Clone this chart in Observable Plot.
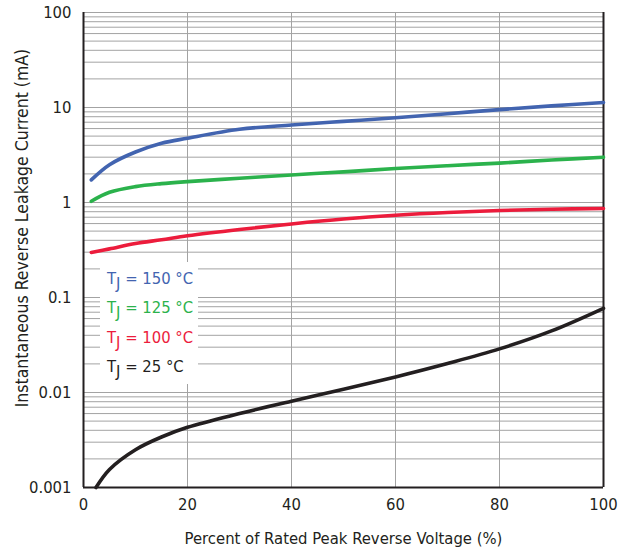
<!DOCTYPE html>
<html>
<head>
<meta charset="utf-8">
<script src="https://cdn.jsdelivr.net/npm/d3@7"></script>
<script src="https://cdn.jsdelivr.net/npm/@observablehq/plot@0.6"></script>
<style>
  html, body { margin: 0; padding: 0; background: #fff; }
  #chart { width: 628px; height: 548px; }
</style>
</head>
<body>
<div id="chart"></div>
<script>
// Percent of rated peak reverse voltage
const pctHot = [1.5, 5, 10, 15, 20, 30, 40, 50, 60, 70, 80, 90, 100];
const pct25 = [2.4, 5, 10, 15, 20, 30, 40, 50, 60, 70, 80, 90, 100];
// Leakage current (mA)
const tj150 = [1.73, 2.5, 3.4, 4.2, 4.75, 5.9, 6.55, 7.15, 7.8, 8.6, 9.5, 10.4, 11.3];
const tj125 = [1.03, 1.28, 1.47, 1.58, 1.66, 1.8, 1.95, 2.1, 2.28, 2.44, 2.6, 2.8, 3.0];
const tj100 = [0.298, 0.325, 0.37, 0.405, 0.446, 0.52, 0.595, 0.67, 0.734, 0.785, 0.824, 0.85, 0.865];
const tj25 = [0.001, 0.00155, 0.0025, 0.0034, 0.0043, 0.006, 0.0081, 0.0108, 0.0146, 0.0202, 0.0288, 0.0445, 0.077];

const seriesNames = ["150", "125", "100", "25"];
const seriesColors = ["#4264b0", "#2bb24c", "#ec1c3c", "#231f20"];

const xTicks = [0, 20, 40, 60, 80, 100];
const yTicks = [0.001, 0.01, 0.1, 1, 10, 100];
const yTickLabels = ["0.001", "0.01", "0.1", "1", "10", "100"];
const xLabel = "Percent of Rated Peak Reverse Voltage (%)";
const yLabel = "Instantaneous Reverse Leakage Current (mA)";

const toRows = (xs, ys, name) => xs.map((x, i) => ({x, y: ys[i], name}));
const rows = [
  ...toRows(pctHot, tj150, "150"),
  ...toRows(pctHot, tj125, "125"),
  ...toRows(pctHot, tj100, "100"),
  ...toRows(pct25, tj25, "25")
];

const minorGrid = [];
for (const d of yTicks.slice(0, -1)) for (let k = 1; k < 10; k++) minorGrid.push(d * k);
minorGrid.push(100);

const font = "'Liberation Sans Narrow', 'DejaVu Sans Condensed', 'Roboto', sans-serif";
const ink = "#231f20";

const chart = Plot.plot({
  width: 628,
  height: 548,
  marginLeft: 83,
  marginRight: 25,
  marginTop: 12,
  marginBottom: 61,
  style: {fontFamily: font, fontSize: "16px", color: ink, background: "#fff"},
  x: {domain: [0, 100]},
  y: {type: "log", domain: [0.001, 100]},
  color: {domain: seriesNames, range: seriesColors},
  marks: [
    Plot.ruleY(minorGrid, {stroke: "#a3a3a3", strokeWidth: 1}),
    Plot.ruleX([20, 40, 60, 80], {stroke: "#a3a3a3", strokeWidth: 1}),
    Plot.ruleX([0, 100], {stroke: ink, strokeWidth: 2}),
    Plot.ruleY([0.001], {stroke: ink, strokeWidth: 2}),
    Plot.axisX({ticks: xTicks, tickSize: 0, tickPadding: 11, fontSize: 16.5, label: null}),
    Plot.axisY({ticks: yTicks, tickFormat: (d) => yTickLabels[yTicks.indexOf(d)], tickSize: 0, tickPadding: 12, fontSize: 16.5, label: null}),
    Plot.text([xLabel], {text: (d) => d, frameAnchor: "bottom", dy: 51, lineAnchor: "middle", textAnchor: "middle", fontSize: 16.5, fill: ink}),
    Plot.text([yLabel], {text: (d) => d, frameAnchor: "left", dx: -61, dy: -22, rotate: -90, lineAnchor: "middle", textAnchor: "middle", fontSize: 17.5, fill: ink}),
    Plot.line(rows, {x: "x", y: "y", z: "name", stroke: "name", strokeWidth: 3.6, curve: "catmull-rom"})
  ]
});

document.getElementById("chart").appendChild(chart);

// In-plot legend box
const svg = d3.select(chart);
const lg = svg.append("g").attr("font-family", font).attr("font-size", 16.5).attr("text-anchor", "start");
lg.append("rect").attr("x", 100).attr("y", 262).attr("width", 98).attr("height", 122).attr("fill", "#fff");
seriesNames.forEach((name, i) => {
  const t = lg.append("text").attr("x", 107).attr("y", 284 + i * 29.3).attr("fill", seriesColors[i]);
  t.append("tspan").text("T");
  t.append("tspan").attr("dy", 5).text("J");
  t.append("tspan").attr("dy", -5).text(` = ${name} °C`);
});
</script>
</body>
</html>
